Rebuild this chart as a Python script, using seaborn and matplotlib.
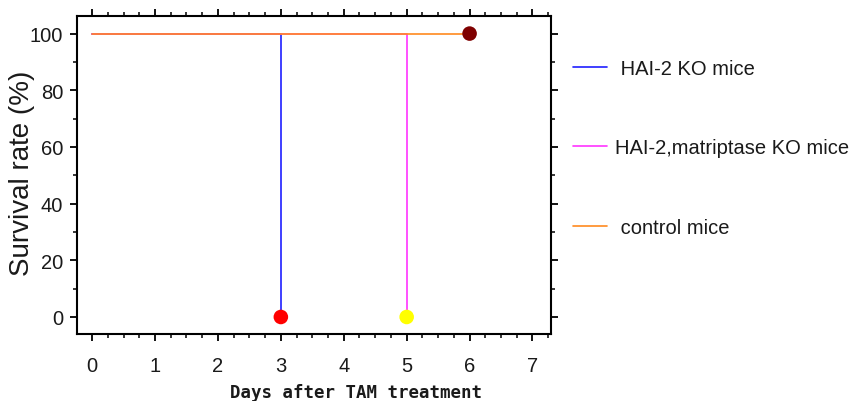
import matplotlib
matplotlib.use("Agg")
import numpy as np
import seaborn as sns
import matplotlib.pyplot as plt
from matplotlib.ticker import MultipleLocator

sns.set_theme(style="white")

# survival data (days after TAM, survival %)
days_ko = [0, 3, 3]
surv_ko = [100, 100, 0]
days_dko = [0, 5, 5]
surv_dko = [100, 100, 0]
days_ctrl = [0, 6]
surv_ctrl = [100, 100]

end_days = [3, 5, 6]
end_surv = [0, 0, 100]
end_colors = ["#ff0000", "#ffff00", "#7f0000"]

labels = [" HAI-2 KO mice", "HAI-2,matriptase KO mice", " control mice"]
line_colors = ["#1f1fff", "#ff33ff", "#ff8a1f"]

x_ticks = [0, 1, 2, 3, 4, 5, 6, 7]
y_ticks = [0, 20, 40, 60, 80, 100]

fig = plt.figure(figsize=(8.52, 4.02), dpi=100)
ax = fig.add_axes([0.0904, 0.1667, 0.556, 0.791])

for dx, sy, col, lab in zip([days_ko, days_dko, days_ctrl],
                            [surv_ko, surv_dko, surv_ctrl],
                            line_colors, labels):
    sns.lineplot(x=dx, y=sy, sort=False, estimator=None, color=col,
                 lw=1.2, label=lab, ax=ax)

sns.scatterplot(x=end_days, y=end_surv, hue=[str(i) for i in range(3)],
                palette=end_colors, s=110, edgecolor="none", legend=False,
                ax=ax, zorder=5, clip_on=False)

ax.set_xlim(-0.24, 7.29)
ax.set_ylim(-6, 106.2)
ax.set_xticks(x_ticks)
ax.set_yticks(y_ticks)
ax.xaxis.set_minor_locator(MultipleLocator(0.25))
ax.yaxis.set_minor_locator(MultipleLocator(10))

for s in ax.spines.values():
    s.set_color("black")
    s.set_linewidth(1.5)

ax.tick_params(which="both", direction="out", color="black",
               bottom=True, top=True, left=True, right=True,
               labeltop=False, labelright=False)
ax.tick_params(which="major", length=5, width=1.3)
ax.tick_params(which="minor", length=3, width=1.1)
ax.tick_params(axis="x", which="major", pad=11)
ax.tick_params(axis="y", which="major", pad=5)
for t in ax.get_xticklabels() + ax.get_yticklabels():
    t.set_fontfamily("Liberation Sans")
    t.set_fontsize(14.5)
    t.set_color("#1a1a1a")

ax.set_xlabel("Days after TAM treatment", family="DejaVu Sans Mono",
              fontweight="bold", fontsize=12.5, color="#1a1a1a")
ax.xaxis.set_label_coords(0.589, -0.155)
ax.set_ylabel("Survival rate (%)", family="Liberation Sans", fontsize=20,
              color="#1a1a1a")
ax.yaxis.set_label_coords(-0.089, 0.51)

ax.legend(loc="upper left", bbox_to_anchor=(0.651, 0.896),
          bbox_transform=fig.transFigure, frameon=False,
          prop={"family": "Liberation Sans", "size": 14.5},
          handlelength=1.7, handletextpad=0.4, labelspacing=3.0)
for t in ax.get_legend().get_texts():
    t.set_color("#1a1a1a")

fig.savefig("out.png", dpi=100)
